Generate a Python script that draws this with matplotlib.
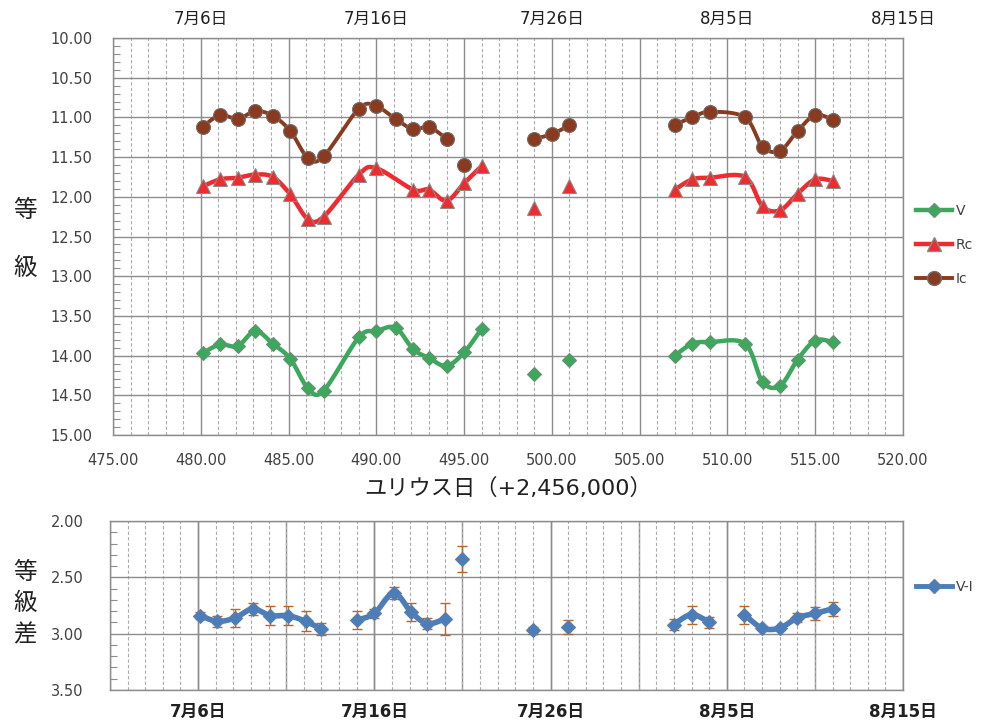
import numpy as np
import matplotlib
matplotlib.use("Agg")
import matplotlib.pyplot as plt
from matplotlib.ticker import MultipleLocator, FormatStrFormatter
from matplotlib.lines import Line2D

plt.rcParams['font.family'] = ['DejaVu Sans', 'Noto Sans CJK JP']

# ---------------- data ----------------
# Julian day (+2,456,000); seg = points in same segment are joined by a line
v_days = [480.1, 481.1, 482.1, 483.1, 484.1, 485.1, 486.1, 487.0, 489.0, 490.0, 491.1, 492.1, 493.0, 494.0, 495.0, 496.0,
          499.0, 501.0,
          507, 508, 509, 511, 512, 513, 514, 515, 516]
v_mag = [13.97, 13.86, 13.88, 13.69, 13.85, 14.04, 14.41, 14.44, 13.77, 13.69, 13.65, 13.92, 14.03, 14.13, 13.96, 13.66,
         14.23, 14.06,
         14.00, 13.85, 13.83, 13.85, 14.33, 14.38, 14.05, 13.81, 13.83]
v_seg = [1] * 16 + [2, 3] + [4] * 9

rc_days = [480.1, 481.1, 482.1, 483.1, 484.1, 485.1, 486.1, 487.0, 489.0, 490.0, 492.1, 493.0, 494.0, 495.0, 496.0,
           499.0, 501.0,
           507, 508, 509, 511, 512, 513, 514, 515, 516]
rc_mag = [11.87, 11.78, 11.76, 11.72, 11.75, 11.97, 12.28, 12.25, 11.72, 11.64, 11.91, 11.91, 12.05, 11.83, 11.61,
          12.14, 11.87,
          11.91, 11.78, 11.76, 11.75, 12.12, 12.17, 11.96, 11.78, 11.80]
rc_seg = [1] * 15 + [2, 3] + [4] * 9

ic_days = [480.1, 481.1, 482.1, 483.1, 484.1, 485.1, 486.1, 487.0, 489.0, 490.0, 491.1, 492.1, 493.0, 494.0,
           495.0,
           499.0, 500.0, 501.0,
           507, 508, 509, 511, 512, 513, 514, 515, 516]
ic_mag = [11.12, 10.97, 11.02, 10.92, 10.98, 11.17, 11.51, 11.49, 10.89, 10.86, 11.02, 11.15, 11.12, 11.27,
          11.60,
          11.27, 11.21, 11.10,
          11.09, 11.00, 10.93, 11.00, 11.37, 11.42, 11.17, 10.97, 11.03]
ic_seg = [1] * 14 + [2] + [3] * 3 + [4] * 9

vi_days = [480.1, 481.1, 482.1, 483.1, 484.1, 485.1, 486.1, 487.0,
           489.0, 490.0, 491.1, 492.1, 493.0, 494.0,
           495.0, 499.0, 501.0,
           507, 508, 509,
           511, 512, 513, 514, 515, 516]
vi_val = [2.84, 2.89, 2.86, 2.78, 2.84, 2.84, 2.89, 2.96,
          2.88, 2.82, 2.64, 2.81, 2.91, 2.87,
          2.34, 2.97, 2.94,
          2.92, 2.83, 2.90,
          2.83, 2.95, 2.95, 2.86, 2.82, 2.78]
vi_err = [0.03, 0.05, 0.08, 0.05, 0.085, 0.085, 0.087, 0.053,
          0.08, 0.04, 0.05, 0.08, 0.05, 0.14,
          0.115, 0.03, 0.06,
          0.05, 0.08, 0.05,
          0.08, 0.02, 0.02, 0.04, 0.06, 0.065]
vi_seg = [1] * 8 + [2] * 6 + [3, 4, 5] + [6] * 3 + [7] * 6

date_ticks = [480, 490, 500, 510, 520]
date_labels = ['7月6日', '7月16日', '7月26日', '8月5日', '8月15日']


# ---------------- helpers ----------------
def smooth(xs, ys, n=24):
    pts = np.column_stack([xs, ys]).astype(float)
    m = len(pts)
    if m < 3:
        return pts[:, 0], pts[:, 1]
    out = []
    t = np.linspace(0, 1, n)[:, None]
    for i in range(m - 1):
        p0 = pts[i - 1] if i > 0 else pts[i]
        p1, p2 = pts[i], pts[i + 1]
        p3 = pts[i + 2] if i + 2 < m else pts[i + 1]
        c1 = p1 + (p2 - p0) / 6.0
        c2 = p2 - (p3 - p1) / 6.0
        b = ((1 - t) ** 3) * p1 + 3 * ((1 - t) ** 2) * t * c1 + 3 * (1 - t) * t ** 2 * c2 + t ** 3 * p2
        out.append(b if i == 0 else b[1:])
    out = np.vstack(out)
    return out[:, 0], out[:, 1]


def draw_series(ax, days, vals, seg, color, lw, marker, ms, mfc, mec, zorder=3):
    days = np.asarray(days, float)
    vals = np.asarray(vals, float)
    seg = np.asarray(seg)
    for s in np.unique(seg):
        idx = seg == s
        if idx.sum() >= 2:
            sx, sy = smooth(days[idx], vals[idx])
            ax.plot(sx, sy, color=color, lw=lw, solid_capstyle='round', zorder=zorder)
    ax.plot(days, vals, ls='none', marker=marker, ms=ms, mfc=mfc, mec=mec, mew=0.8, zorder=zorder + 1)


def style_axes(ax):
    ax.set_xlim(475, 520)
    ax.xaxis.set_major_locator(MultipleLocator(5))
    ax.xaxis.set_minor_locator(MultipleLocator(1))
    ax.grid(which='major', axis='both', color='#8C8C8C', lw=1.0, ls='-')
    ax.grid(which='minor', axis='x', color='#ABABAB', lw=0.8, ls=(0, (3, 2)))
    ax.set_axisbelow(True)
    for sp in ax.spines.values():
        sp.set_color('#8C8C8C')
        sp.set_linewidth(1.0)
    ax.tick_params(axis='x', which='both', length=0)
    ax.tick_params(axis='y', which='major', length=0, labelcolor='#404040', labelsize=10.5)
    ax.tick_params(axis='y', which='minor', length=5, direction='in', color='#8C8C8C', width=0.8)


# ---------------- figure ----------------
fig = plt.figure(figsize=(9.82, 7.22), dpi=100)

W, H = 982.0, 722.0
ax1 = fig.add_axes([113 / W, 1 - 435 / H, (903 - 113) / W, (435 - 38) / H])
ax2 = fig.add_axes([110 / W, 1 - 690 / H, (903 - 110) / W, (690 - 521) / H])

# top chart
style_axes(ax1)
ax1.set_ylim(15, 10)
ax1.yaxis.set_major_locator(MultipleLocator(0.5))
ax1.yaxis.set_minor_locator(MultipleLocator(0.1))
ax1.yaxis.set_major_formatter(FormatStrFormatter('%.2f'))
ax1.xaxis.set_major_formatter(FormatStrFormatter('%.2f'))
ax1.tick_params(axis='y', which='major', pad=15)
ax1.tick_params(axis='x', which='major', pad=13, labelcolor='#404040', labelsize=10.5)

col_v = '#3AA95B'
col_rc = '#EE2B2F'
col_ic = '#8A3A1E'
col_vi = '#4A7DBA'
col_err = '#B8652A'

draw_series(ax1, v_days, v_mag, v_seg, col_v, 3.2, 'D', 6.8, col_v, '#6E8F78')
draw_series(ax1, rc_days, rc_mag, rc_seg, col_rc, 3.2, '^', 10, col_rc, '#8A8A8A')
draw_series(ax1, ic_days, ic_mag, ic_seg, col_ic, 2.8, 'o', 10, col_ic, '#6E6E6E')

top = ax1.secondary_xaxis('top')
top.set_xticks(date_ticks)
top.set_xticklabels(date_labels)
top.tick_params(length=0, pad=7, labelsize=12, labelcolor='#202020')
top.spines['top'].set_visible(False)

ax1.set_xlabel('ユリウス日（+2,456,000）', fontsize=16, color='#202020', labelpad=7)

handles = [
    Line2D([], [], color=col_v, lw=3.2, marker='D', ms=6.8, mfc=col_v, mec='#6E8F78'),
    Line2D([], [], color=col_rc, lw=3.2, marker='^', ms=10, mfc=col_rc, mec='#8A8A8A'),
    Line2D([], [], color=col_ic, lw=2.8, marker='o', ms=10, mfc=col_ic, mec='#6E6E6E'),
]
fig.legend(handles, ['V', 'Rc', 'Ic'], loc='center left', bbox_to_anchor=(916 / W, 1 - 245 / H),
           frameon=False, fontsize=10, handlelength=2.6, handletextpad=0.25, labelspacing=1.45,
           borderpad=0, borderaxespad=0, labelcolor='#404040')

# y label stacked characters
fig.text(25 / W, 1 - 210 / H, '等', fontsize=17, ha='center', va='center', color='#202020')
fig.text(25 / W, 1 - 268 / H, '級', fontsize=17, ha='center', va='center', color='#202020')

# bottom chart
style_axes(ax2)
ax2.set_ylim(3.5, 2.0)
ax2.yaxis.set_major_locator(MultipleLocator(0.5))
ax2.yaxis.set_minor_locator(MultipleLocator(0.1))
ax2.yaxis.set_major_formatter(FormatStrFormatter('%.2f'))
ax2.tick_params(axis='y', which='major', pad=19)
ax2.set_xticks(date_ticks)
ax2.set_xticklabels(date_labels, fontweight='bold')
ax2.xaxis.set_minor_locator(MultipleLocator(1))
ax2.tick_params(axis='x', which='major', pad=9, labelsize=12, labelcolor='#202020')
ax2.grid(which='major', axis='both', color='#8C8C8C', lw=1.0, ls='-')
ax2.grid(which='minor', axis='x', color='#ABABAB', lw=0.8, ls=(0, (3, 2)))
for xv in np.arange(475, 521, 5):
    ax2.axvline(xv, color='#8C8C8C', lw=1.0, zorder=0.5)

ax2.errorbar(vi_days, vi_val, yerr=vi_err, fmt='none', ecolor=col_err, elinewidth=1.0,
             capsize=3.5, capthick=1.0, zorder=2)
draw_series(ax2, vi_days, vi_val, vi_seg, col_vi, 4.0, 'D', 7, col_vi, '#5E7FA8')

fig.legend([Line2D([], [], color=col_vi, lw=3.5, marker='D', ms=7, mfc=col_vi, mec='#5E7FA8')],
           ['V-I'], loc='center left', bbox_to_anchor=(916 / W, 1 - 587 / H),
           frameon=False, fontsize=10, handlelength=2.6, handletextpad=0.25, borderpad=0,
           borderaxespad=0, labelcolor='#404040')

fig.text(25 / W, 1 - 572 / H, '等', fontsize=17, ha='center', va='center', color='#202020')
fig.text(25 / W, 1 - 603 / H, '級', fontsize=17, ha='center', va='center', color='#202020')
fig.text(25 / W, 1 - 634 / H, '差', fontsize=17, ha='center', va='center', color='#202020')

fig.savefig('out.png', dpi=100)
